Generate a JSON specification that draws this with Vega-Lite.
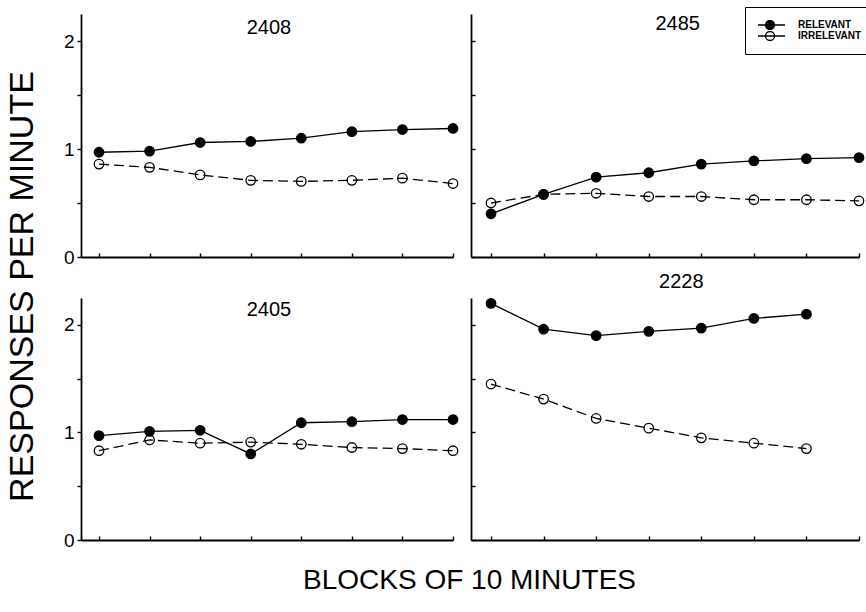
{
  "$schema": "https://vega.github.io/schema/vega-lite/v6.json",
  "padding": {"left": 4, "top": 6, "right": 0, "bottom": 10},
  "background": "white",
  "datasets": {
    "d": [
      {"subject": "2408", "block": 1, "series": "RELEVANT", "rate": 0.97},
      {"subject": "2408", "block": 2, "series": "RELEVANT", "rate": 0.98},
      {"subject": "2408", "block": 3, "series": "RELEVANT", "rate": 1.06},
      {"subject": "2408", "block": 4, "series": "RELEVANT", "rate": 1.07},
      {"subject": "2408", "block": 5, "series": "RELEVANT", "rate": 1.10},
      {"subject": "2408", "block": 6, "series": "RELEVANT", "rate": 1.16},
      {"subject": "2408", "block": 7, "series": "RELEVANT", "rate": 1.18},
      {"subject": "2408", "block": 8, "series": "RELEVANT", "rate": 1.19},
      {"subject": "2408", "block": 1, "series": "IRRELEVANT", "rate": 0.86},
      {"subject": "2408", "block": 2, "series": "IRRELEVANT", "rate": 0.83},
      {"subject": "2408", "block": 3, "series": "IRRELEVANT", "rate": 0.76},
      {"subject": "2408", "block": 4, "series": "IRRELEVANT", "rate": 0.71},
      {"subject": "2408", "block": 5, "series": "IRRELEVANT", "rate": 0.70},
      {"subject": "2408", "block": 6, "series": "IRRELEVANT", "rate": 0.71},
      {"subject": "2408", "block": 7, "series": "IRRELEVANT", "rate": 0.73},
      {"subject": "2408", "block": 8, "series": "IRRELEVANT", "rate": 0.68},
      {"subject": "2485", "block": 1, "series": "RELEVANT", "rate": 0.40},
      {"subject": "2485", "block": 2, "series": "RELEVANT", "rate": 0.58},
      {"subject": "2485", "block": 3, "series": "RELEVANT", "rate": 0.74},
      {"subject": "2485", "block": 4, "series": "RELEVANT", "rate": 0.78},
      {"subject": "2485", "block": 5, "series": "RELEVANT", "rate": 0.86},
      {"subject": "2485", "block": 6, "series": "RELEVANT", "rate": 0.89},
      {"subject": "2485", "block": 7, "series": "RELEVANT", "rate": 0.91},
      {"subject": "2485", "block": 8, "series": "RELEVANT", "rate": 0.92},
      {"subject": "2485", "block": 1, "series": "IRRELEVANT", "rate": 0.50},
      {"subject": "2485", "block": 2, "series": "IRRELEVANT", "rate": 0.58},
      {"subject": "2485", "block": 3, "series": "IRRELEVANT", "rate": 0.59},
      {"subject": "2485", "block": 4, "series": "IRRELEVANT", "rate": 0.56},
      {"subject": "2485", "block": 5, "series": "IRRELEVANT", "rate": 0.56},
      {"subject": "2485", "block": 6, "series": "IRRELEVANT", "rate": 0.53},
      {"subject": "2485", "block": 7, "series": "IRRELEVANT", "rate": 0.53},
      {"subject": "2485", "block": 8, "series": "IRRELEVANT", "rate": 0.52},
      {"subject": "2405", "block": 1, "series": "RELEVANT", "rate": 0.97},
      {"subject": "2405", "block": 2, "series": "RELEVANT", "rate": 1.01},
      {"subject": "2405", "block": 3, "series": "RELEVANT", "rate": 1.02},
      {"subject": "2405", "block": 4, "series": "RELEVANT", "rate": 0.80},
      {"subject": "2405", "block": 5, "series": "RELEVANT", "rate": 1.09},
      {"subject": "2405", "block": 6, "series": "RELEVANT", "rate": 1.10},
      {"subject": "2405", "block": 7, "series": "RELEVANT", "rate": 1.12},
      {"subject": "2405", "block": 8, "series": "RELEVANT", "rate": 1.12},
      {"subject": "2405", "block": 1, "series": "IRRELEVANT", "rate": 0.83},
      {"subject": "2405", "block": 2, "series": "IRRELEVANT", "rate": 0.93},
      {"subject": "2405", "block": 3, "series": "IRRELEVANT", "rate": 0.90},
      {"subject": "2405", "block": 4, "series": "IRRELEVANT", "rate": 0.91},
      {"subject": "2405", "block": 5, "series": "IRRELEVANT", "rate": 0.89},
      {"subject": "2405", "block": 6, "series": "IRRELEVANT", "rate": 0.86},
      {"subject": "2405", "block": 7, "series": "IRRELEVANT", "rate": 0.85},
      {"subject": "2405", "block": 8, "series": "IRRELEVANT", "rate": 0.83},
      {"subject": "2228", "block": 1, "series": "RELEVANT", "rate": 2.20},
      {"subject": "2228", "block": 2, "series": "RELEVANT", "rate": 1.96},
      {"subject": "2228", "block": 3, "series": "RELEVANT", "rate": 1.90},
      {"subject": "2228", "block": 4, "series": "RELEVANT", "rate": 1.94},
      {"subject": "2228", "block": 5, "series": "RELEVANT", "rate": 1.97},
      {"subject": "2228", "block": 6, "series": "RELEVANT", "rate": 2.06},
      {"subject": "2228", "block": 7, "series": "RELEVANT", "rate": 2.10},
      {"subject": "2228", "block": 1, "series": "IRRELEVANT", "rate": 1.45},
      {"subject": "2228", "block": 2, "series": "IRRELEVANT", "rate": 1.31},
      {"subject": "2228", "block": 3, "series": "IRRELEVANT", "rate": 1.13},
      {"subject": "2228", "block": 4, "series": "IRRELEVANT", "rate": 1.04},
      {"subject": "2228", "block": 5, "series": "IRRELEVANT", "rate": 0.95},
      {"subject": "2228", "block": 6, "series": "IRRELEVANT", "rate": 0.90},
      {"subject": "2228", "block": 7, "series": "IRRELEVANT", "rate": 0.85}
    ]
  },
  "bounds": "flush",
  "columns": 2,
  "spacing": {"row": 41, "column": 18},
  "resolve": {
    "scale": {"x": "independent", "y": "independent", "fill": "independent"},
    "legend": {"fill": "independent"}
  },
  "concat": [
    {
      "width": 372, "height": 243,
      "layer": [
        {
          "data": {"name": "d"},
          "transform": [{"filter": "datum.subject == '2408' && datum.series == 'RELEVANT'"}],
          "mark": {"type": "line", "color": "black", "strokeWidth": 1.3},
          "encoding": {
            "x": {"field": "block", "type": "quantitative", "scale": {"domain": [0.644, 8], "nice": false, "zero": false},
                  "axis": {"values": [1,2,3,4,5,6,7,8], "labels": false, "tickSize": -4, "title": null}},
            "y": {"field": "rate", "type": "quantitative", "scale": {"domain": [0, 2.25], "nice": false},
                  "axis": {"values": [0, 0.5, 1, 1.5, 2], "format": ".0f", "labelExpr": "datum.value % 1 == 0 ? datum.label : ''", "tickSize": 4, "labelPadding": 3,
                           "title": "RESPONSES PER MINUTE", "titleX": -49, "titleY": 272, "titleBaseline": "alphabetic", "titleAngle": -90, "titleAlign": "center"}}
          }
        },
        {
          "data": {"name": "d"},
          "transform": [{"filter": "datum.subject == '2408' && datum.series == 'IRRELEVANT'"}],
          "mark": {"type": "line", "color": "black", "strokeWidth": 1.3, "strokeDash": [10, 5]},
          "encoding": {"x": {"field": "block", "type": "quantitative"}, "y": {"field": "rate", "type": "quantitative"}}
        },
        {
          "data": {"name": "d"},
          "transform": [{"filter": "datum.subject == '2408'"}],
          "mark": {"type": "point", "shape": "circle", "size": 90, "filled": true, "stroke": "black", "strokeWidth": 1.3, "opacity": 1},
          "encoding": {
            "x": {"field": "block", "type": "quantitative"},
            "y": {"field": "rate", "type": "quantitative"},
            "fill": {"field": "series", "type": "nominal", "scale": {"domain": ["RELEVANT", "IRRELEVANT"], "range": ["black", "transparent"]}, "legend": null}
          }
        },
        {
          "data": {"values": [{"label": "2408"}]},
          "mark": {"type": "text", "fontSize": 20, "font": "Liberation Sans", "baseline": "middle", "align": "center", "color": "black"},
          "encoding": {"x": {"datum": 4.36}, "y": {"datum": 2.12}, "text": {"field": "label"}}
        }
      ]
    },
    {
      "width": 388, "height": 243,
      "layer": [
        {
          "data": {"name": "d"},
          "transform": [{"filter": "datum.subject == '2485' && datum.series == 'RELEVANT'"}],
          "mark": {"type": "line", "color": "black", "strokeWidth": 1.3},
          "encoding": {
            "x": {"field": "block", "type": "quantitative", "scale": {"domain": [0.619, 8], "nice": false, "zero": false},
                  "axis": {"values": [1,2,3,4,5,6,7,8], "labels": false, "tickSize": -4, "title": null}},
            "y": {"field": "rate", "type": "quantitative", "scale": {"domain": [0, 2.25], "nice": false},
                  "axis": {"values": [0, 0.5, 1, 1.5, 2], "labels": false, "tickSize": -4, "title": null}}
          }
        },
        {
          "data": {"name": "d"},
          "transform": [{"filter": "datum.subject == '2485' && datum.series == 'IRRELEVANT'"}],
          "mark": {"type": "line", "color": "black", "strokeWidth": 1.3, "strokeDash": [10, 5]},
          "encoding": {"x": {"field": "block", "type": "quantitative"}, "y": {"field": "rate", "type": "quantitative"}}
        },
        {
          "data": {"name": "d"},
          "transform": [{"filter": "datum.subject == '2485'"}],
          "mark": {"type": "point", "shape": "circle", "size": 90, "filled": true, "stroke": "black", "strokeWidth": 1.3, "opacity": 1},
          "encoding": {
            "x": {"field": "block", "type": "quantitative"},
            "y": {"field": "rate", "type": "quantitative"},
            "fill": {"field": "series", "type": "nominal", "scale": {"domain": ["RELEVANT", "IRRELEVANT"], "range": ["black", "transparent"]},
                     "legend": {"title": null, "orient": "none", "legendX": 274, "legendY": -7, "direction": "vertical",
                                "symbolType": "M-3,0H3M-0.9,0A0.9,0.9,0,1,0,0.9,0A0.9,0.9,0,1,0,-0.9,0",
                                "symbolSize": 100, "symbolOffset": 6, "labelOffset": 22, "symbolStrokeColor": "black", "symbolStrokeWidth": 1.3,
                                "labelFont": "Liberation Sans", "labelFontSize": 10, "labelFontWeight": "bold", "labelColor": "black",
                                "clipHeight": 10, "rowPadding": 1, "padding": 13, "strokeColor": "black", "fillColor": "white"}}
          }
        },
        {
          "data": {"values": [{"label": "2485"}]},
          "mark": {"type": "text", "fontSize": 20, "font": "Liberation Sans", "baseline": "middle", "align": "center", "color": "black"},
          "encoding": {"x": {"datum": 4.55}, "y": {"datum": 2.16}, "text": {"field": "label"}}
        }
      ]
    },
    {
      "width": 372, "height": 242,
      "layer": [
        {
          "data": {"name": "d"},
          "transform": [{"filter": "datum.subject == '2405' && datum.series == 'RELEVANT'"}],
          "mark": {"type": "line", "color": "black", "strokeWidth": 1.3},
          "encoding": {
            "x": {"field": "block", "type": "quantitative", "scale": {"domain": [0.644, 8], "nice": false, "zero": false},
                  "axis": {"values": [1,2,3,4,5,6,7,8], "labels": false, "tickSize": -4,
                           "title": "BLOCKS OF 10 MINUTES", "titleX": 388, "titleY": 40, "titleBaseline": "middle", "titleAlign": "center"}},
            "y": {"field": "rate", "type": "quantitative", "scale": {"domain": [0, 2.25], "nice": false},
                  "axis": {"values": [0, 0.5, 1, 1.5, 2], "format": ".0f", "labelExpr": "datum.value % 1 == 0 ? datum.label : ''", "tickSize": 4, "labelPadding": 3, "title": null}}
          }
        },
        {
          "data": {"name": "d"},
          "transform": [{"filter": "datum.subject == '2405' && datum.series == 'IRRELEVANT'"}],
          "mark": {"type": "line", "color": "black", "strokeWidth": 1.3, "strokeDash": [10, 5]},
          "encoding": {"x": {"field": "block", "type": "quantitative"}, "y": {"field": "rate", "type": "quantitative"}}
        },
        {
          "data": {"name": "d"},
          "transform": [{"filter": "datum.subject == '2405'"}],
          "mark": {"type": "point", "shape": "circle", "size": 90, "filled": true, "stroke": "black", "strokeWidth": 1.3, "opacity": 1},
          "encoding": {
            "x": {"field": "block", "type": "quantitative"},
            "y": {"field": "rate", "type": "quantitative"},
            "fill": {"field": "series", "type": "nominal", "scale": {"domain": ["RELEVANT", "IRRELEVANT"], "range": ["black", "transparent"]}, "legend": null}
          }
        },
        {
          "data": {"values": [{"label": "2405"}]},
          "mark": {"type": "text", "fontSize": 20, "font": "Liberation Sans", "baseline": "middle", "align": "center", "color": "black"},
          "encoding": {"x": {"datum": 4.36}, "y": {"datum": 2.14}, "text": {"field": "label"}}
        }
      ]
    },
    {
      "width": 388, "height": 242,
      "layer": [
        {
          "data": {"name": "d"},
          "transform": [{"filter": "datum.subject == '2228' && datum.series == 'RELEVANT'"}],
          "mark": {"type": "line", "color": "black", "strokeWidth": 1.3},
          "encoding": {
            "x": {"field": "block", "type": "quantitative", "scale": {"domain": [0.619, 8], "nice": false, "zero": false},
                  "axis": {"values": [1,2,3,4,5,6,7,8], "labels": false, "tickSize": -4, "title": null}},
            "y": {"field": "rate", "type": "quantitative", "scale": {"domain": [0, 2.25], "nice": false},
                  "axis": {"values": [0, 0.5, 1, 1.5, 2], "labels": false, "tickSize": -4, "title": null}}
          }
        },
        {
          "data": {"name": "d"},
          "transform": [{"filter": "datum.subject == '2228' && datum.series == 'IRRELEVANT'"}],
          "mark": {"type": "line", "color": "black", "strokeWidth": 1.3, "strokeDash": [10, 5]},
          "encoding": {"x": {"field": "block", "type": "quantitative"}, "y": {"field": "rate", "type": "quantitative"}}
        },
        {
          "data": {"name": "d"},
          "transform": [{"filter": "datum.subject == '2228'"}],
          "mark": {"type": "point", "shape": "circle", "size": 90, "filled": true, "stroke": "black", "strokeWidth": 1.3, "opacity": 1},
          "encoding": {
            "x": {"field": "block", "type": "quantitative"},
            "y": {"field": "rate", "type": "quantitative"},
            "fill": {"field": "series", "type": "nominal", "scale": {"domain": ["RELEVANT", "IRRELEVANT"], "range": ["black", "transparent"]}, "legend": null}
          }
        },
        {
          "data": {"values": [{"label": "2228"}]},
          "mark": {"type": "text", "fontSize": 20, "font": "Liberation Sans", "baseline": "middle", "align": "center", "color": "black"},
          "encoding": {"x": {"datum": 4.62}, "y": {"datum": 2.40}, "text": {"field": "label"}}
        }
      ]
    }
  ],
  "config": {
    "view": {"stroke": null},
    "font": "Liberation Sans",
    "axis": {
      "grid": false,
      "domainColor": "black", "domainWidth": 1.8,
      "tickColor": "black", "tickWidth": 1.4,
      "labelFont": "Liberation Sans", "labelFontSize": 19, "labelColor": "black",
      "titleFont": "Liberation Sans", "titleFontSize": 28, "titleFontWeight": "normal", "titleColor": "black"
    },
    "axisY": {"titleFontSize": 34}
  }
}
